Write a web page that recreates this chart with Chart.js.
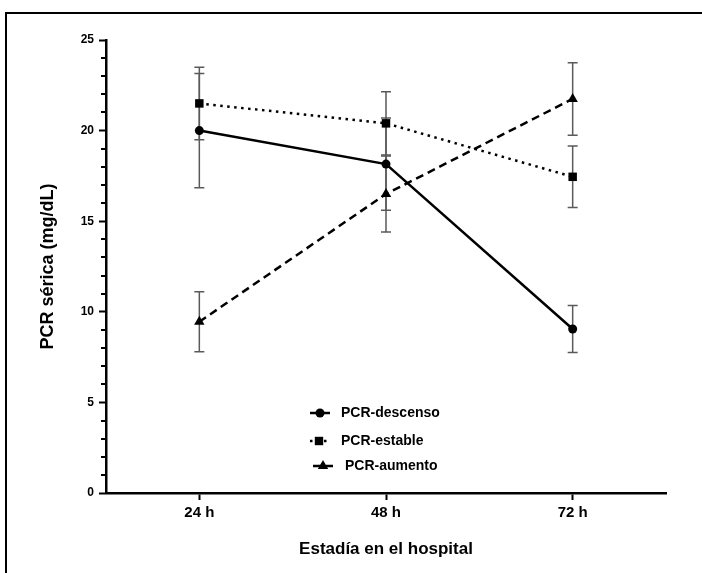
<!DOCTYPE html>
<html lang="es">
<head>
<meta charset="utf-8">
<title>PCR sérica</title>
<script src="https://cdn.jsdelivr.net/npm/chart.js@4/dist/chart.umd.min.js"></script>
<style>
  html, body { margin: 0; padding: 0; background: #fff; }
  canvas { display: block; }
</style>
</head>
<body>
<canvas id="pcrChart" width="702" height="573"></canvas>
<script>
// Data (mean +/- error)
const categories = ["24 h", "48 h", "72 h"];
const seriesNames = ["PCR-descenso", "PCR-estable", "PCR-aumento"];

const descensoMean = [20.0, 18.15, 9.05];
const descensoErr = [3.15, 2.55, 1.3];

const estableMean = [21.5, 20.4, 17.45];
const estableErr = [2.0, 1.75, 1.7];

const aumentoMean = [9.45, 16.5, 21.75];
const aumentoErr = [1.65, 2.1, 2.0];

const yMin = 0;
const yMax = 25;
const yStep = 5;

const FONT = "'Liberation Sans', Arial, sans-serif";

// error bars, drawn under the lines
const errorBars = {
  id: "errorBars",
  beforeDatasetsDraw(chart) {
    const ctx = chart.ctx;
    const y = chart.scales.y;
    ctx.save();
    ctx.strokeStyle = "#5a5a5a";
    ctx.lineWidth = 1.5;
    chart.data.datasets.forEach((ds, i) => {
      const meta = chart.getDatasetMeta(i);
      meta.data.forEach((pt, j) => {
        const top = y.getPixelForValue(ds.data[j] + ds.errors[j]);
        const bot = y.getPixelForValue(ds.data[j] - ds.errors[j]);
        ctx.beginPath();
        ctx.moveTo(pt.x, top);
        ctx.lineTo(pt.x, bot);
        ctx.moveTo(pt.x - 5, top);
        ctx.lineTo(pt.x + 5, top);
        ctx.moveTo(pt.x - 5, bot);
        ctx.lineTo(pt.x + 5, bot);
        ctx.stroke();
      });
    });
    ctx.restore();
  },
};

// page frame, minor ticks and the legend inside the plot
const extras = {
  id: "extras",
  beforeDraw(chart) {
    const ctx = chart.ctx;
    ctx.save();
    ctx.fillStyle = "#fff";
    ctx.fillRect(0, 0, chart.width, chart.height);
    ctx.strokeStyle = "#000";
    ctx.lineWidth = 2;
    ctx.beginPath();
    ctx.moveTo(6, chart.height);
    ctx.lineTo(6, 13);
    ctx.lineTo(chart.width, 13);
    ctx.stroke();
    ctx.restore();
  },
  afterDraw(chart) {
    const ctx = chart.ctx;
    const y = chart.scales.y;
    const left = chart.chartArea.left;
    ctx.save();
    ctx.strokeStyle = "#000";
    ctx.lineWidth = 2;
    for (let v = yMin + 1; v < yMax; v++) {
      if (v % yStep === 0) continue;
      const py = Math.round(y.getPixelForValue(v));
      ctx.beginPath();
      ctx.moveTo(left - 5, py);
      ctx.lineTo(left, py);
      ctx.stroke();
    }

    // legend
    const rows = [
      { y: 413, x0: 310, x1: 330, mx: 320, tx: 341 },
      { y: 441, x0: 310, x1: 328, mx: 319, tx: 341 },
      { y: 466, x0: 313, x1: 333, mx: 323, tx: 345 },
    ];
    chart.data.datasets.forEach((ds, i) => {
      const r = rows[i];
      ctx.strokeStyle = "#000";
      ctx.lineWidth = ds.borderWidth;
      ctx.setLineDash(ds.borderDash || []);
      ctx.beginPath();
      ctx.moveTo(r.x0, r.y);
      ctx.lineTo(r.x1, r.y);
      ctx.stroke();
      ctx.setLineDash([]);
      ctx.fillStyle = "#000";
      ctx.beginPath();
      if (ds.pointStyle === "circle") {
        ctx.arc(r.mx, r.y, 4.5, 0, Math.PI * 2);
      } else if (ds.pointStyle === "rect") {
        ctx.rect(r.mx - 4.2, r.y - 4.2, 8.4, 8.4);
      } else {
        ctx.moveTo(r.mx, r.y - 6);
        ctx.lineTo(r.mx + 5.2, r.y + 3);
        ctx.lineTo(r.mx - 5.2, r.y + 3);
        ctx.closePath();
      }
      ctx.fill();
      ctx.font = "bold 14px " + FONT;
      ctx.textBaseline = "middle";
      ctx.textAlign = "left";
      ctx.fillText(ds.label, r.tx, r.y);
    });
    ctx.restore();
  },
};

const ctx = document.getElementById("pcrChart").getContext("2d");
const chart = new Chart(ctx, {
  type: "line",
  data: {
    labels: categories,
    datasets: [
      {
        label: seriesNames[0],
        data: descensoMean,
        errors: descensoErr,
        borderColor: "#000",
        backgroundColor: "#000",
        borderWidth: 2.5,
        pointStyle: "circle",
        pointRadius: 4.5,
        pointBorderWidth: 0,
        tension: 0,
      },
      {
        label: seriesNames[1],
        data: estableMean,
        errors: estableErr,
        borderColor: "#000",
        backgroundColor: "#000",
        borderWidth: 2.5,
        borderDash: [2.5, 4.5],
        pointStyle: "rect",
        pointRadius: 6,
        pointBorderWidth: 0,
        tension: 0,
      },
      {
        label: seriesNames[2],
        data: aumentoMean,
        errors: aumentoErr,
        borderColor: "#000",
        backgroundColor: "#000",
        borderWidth: 2.5,
        borderDash: [8, 5],
        pointStyle: "triangle",
        pointRadius: 6,
        pointBorderWidth: 0,
        tension: 0,
      },
    ],
  },
  options: {
    responsive: false,
    animation: false,
    layout: { padding: { left: 0, top: 40, right: 36, bottom: 0 } },
    plugins: {
      legend: { display: false },
      tooltip: { enabled: false },
    },
    scales: {
      x: {
        type: "category",
        offset: true,
        afterFit: (scale) => { scale.height = 80; },
        border: { display: true, color: "#000", width: 2.5 },
        grid: {
          drawOnChartArea: false,
          drawTicks: true,
          tickLength: 7,
          tickWidth: 2,
          tickColor: "#000",
          offset: false,
        },
        ticks: {
          color: "#000",
          padding: 4,
          font: { family: FONT, size: 15, weight: "bold" },
        },
        title: {
          display: true,
          text: "Estadía en el hospital",
          color: "#000",
          font: { family: FONT, size: 17, weight: "bold" },
          padding: { top: 0, bottom: 13 },
        },
      },
      y: {
        min: yMin,
        max: yMax,
        afterFit: (scale) => { scale.width = 106; },
        border: { display: true, color: "#000", width: 2.5 },
        grid: {
          drawOnChartArea: false,
          drawTicks: true,
          tickLength: 7,
          tickWidth: 2,
          tickColor: "#000",
        },
        ticks: {
          stepSize: yStep,
          color: "#000",
          padding: 5,
          font: { family: FONT, size: 12, weight: "bold" },
        },
        title: {
          display: true,
          text: "PCR sérica (mg/dL)",
          color: "#000",
          font: { family: FONT, size: 18, weight: "bold" },
          padding: { top: 37, bottom: 0 },
        },
      },
    },
  },
  plugins: [errorBars, extras],
});
</script>
</body>
</html>
